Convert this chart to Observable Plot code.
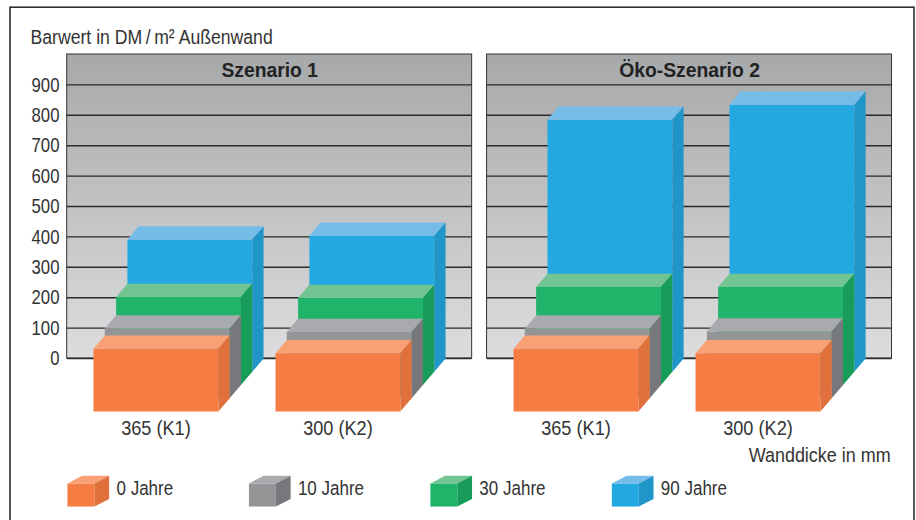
<!DOCTYPE html>
<html>
<head>
<meta charset="utf-8">
<script src="https://cdn.jsdelivr.net/npm/d3@7"></script>
<script src="https://cdn.jsdelivr.net/npm/@observablehq/plot@0.6"></script>
<style>html,body{margin:0;padding:0;background:#fff}svg{display:block}</style>
</head>
<body>
<div id="chart"></div>
<script>
// Data (DM/m²)
const scenarios = ["Szenario 1", "Öko-Szenario 2"];
const walls = ["365 (K1)", "300 (K2)"];
const years = ["0 Jahre", "10 Jahre", "30 Jahre", "90 Jahre"];
const yTicks = [0, 100, 200, 300, 400, 500, 600, 700, 800, 900];
// order: [S1 K1, S1 K2, S2 K1, S2 K2]
const jahre0 = [206, 191, 206, 191];
const jahre10 = [229, 218, 229, 219];
const jahre30 = [289, 286, 322, 322];
const jahre90 = [435, 447, 829, 878];

const seriesValues = [jahre0, jahre10, jahre30, jahre90];
const palette = [
  {front: "#f57d44", top: "#f9a174", side: "#e1713c"},
  {front: "#949597", top: "#a9aaad", side: "#77787b"},
  {front: "#20b46a", top: "#72c492", side: "#189c5a"},
  {front: "#24a8e1", top: "#75bce9", side: "#2095c8"}
];

// Layout in scale units
const barW = 0.686, depthX = 0.0621, depthY = 43.5, panelStep = 2.308;
const panelX = -0.1445, panelW = 2.225;

let faceId = 0;
function cuboid(out, x0, base, w, h, dx, dy, colors) {
  const x1 = x0 + w, t = base + h;
  const add = (pts, fill) => {
    const z = faceId++;
    for (const [x, y] of pts) out.push({x, y, z, fill});
  };
  add([[x0, base], [x1, base], [x1, t], [x0, t]], colors.front);
  add([[x0, t], [x1, t], [x1 + dx, t + dy], [x0 + dx, t + dy]], colors.top);
  add([[x1, base], [x1 + dx, base + dy], [x1 + dx, t + dy], [x1, t]], colors.side);
}

const faces = [];
scenarios.forEach((_, p) => walls.forEach((_, w) => {
  const idx = p * 2 + w;
  for (let s = 3; s >= 0; s--) {
    const x0 = p * panelStep + w + s * depthX;
    const base = -(4 - s) * depthY;
    cuboid(faces, x0, base, barW, seriesValues[s][idx], depthX, depthY, palette[s]);
  }
}));

const legendX = i => -0.143 + i * 0.997;
years.forEach((_, i) => cuboid(faces, legendX(i), -487, 0.148, 76, 0.081, 25, palette[i]));

const panels = scenarios.map((name, p) => ({name, x1: panelX + p * (panelW + 0.082), x2: panelX + panelW + p * (panelW + 0.082)}));
const grid = panels.flatMap(pn => yTicks.map(v => ({v, x1: pn.x1, x2: pn.x2})));
const wallLabels = scenarios.flatMap((_, p) => walls.map((name, w) => ({name, x: p * panelStep + w + barW / 2})));

const ink = "#333";
const chart = Plot.plot({
  width: 916,
  height: 520,
  marginLeft: 67,
  marginTop: 0,
  marginRight: 0,
  marginBottom: 0,
  style: {fontFamily: "'Liberation Sans','Arial',sans-serif", background: "#fff", color: ink},
  x: {domain: [0, 1], range: [93, 275], axis: null},
  y: {domain: [0, 1000], range: [358, 54], axis: null},
  marks: [
    () => {
      const defs = d3.create("svg:defs");
      const g = defs.append("linearGradient").attr("id", "panelGrad").attr("x1", 0).attr("y1", 0).attr("x2", 0).attr("y2", 1);
      g.append("stop").attr("offset", "0%").attr("stop-color", "#a7a8aa");
      g.append("stop").attr("offset", "100%").attr("stop-color", "#dcddde");
      return defs.node();
    },
    // outer frame (runs off the bottom of the picture)
    Plot.rect([{}], {x1: () => -0.456, x2: () => 4.511, y1: () => -560, y2: () => 1154, fill: "none", stroke: "#222", strokeWidth: 1.5}),
    // panels
    Plot.rect(panels, {x1: "x1", x2: "x2", y1: () => 0, y2: () => 1000, fill: "url(#panelGrad)", stroke: "#333", strokeWidth: 1}),
    Plot.ruleY(grid, {y: "v", x1: "x1", x2: "x2", stroke: "#2a2a2a", strokeWidth: 1.4}),
    Plot.text(panels, {x: d => (d.x1 + d.x2) / 2, y: () => 947, text: "name", fontSize: 21, fontWeight: "bold", fill: "#222"}),
    // bars and legend keys
    Plot.line(faces, {x: "x", y: "y", z: "z", fill: "fill", stroke: null, curve: "linear"}),
    // axis and texts
    Plot.axisY({ticks: yTicks, tickSize: 0, tickPadding: 8, fontSize: 21, label: null, fill: ink}),
    Plot.text(["Barwert in DM\u2009/\u2009m² Außenwand"], {x: () => -0.346, y: () => 1055, text: d => d, textAnchor: "start", fontSize: 20.5, fill: ink}),
    Plot.text(wallLabels, {x: "x", y: () => -230, text: "name", fontSize: 20.5, fill: ink}),
    Plot.text(["Wanddicke in mm"], {x: () => 4.38, y: () => -319, text: d => d, textAnchor: "end", fontSize: 20.5, fill: ink}),
    Plot.text(years, {x: (d, i) => legendX(i) + 0.269, y: () => -428, text: d => d, textAnchor: "start", fontSize: 20.5, fill: ink})
  ]
});
document.getElementById("chart").append(chart);
// The reference face is condensed and no condensed face is installed: narrow the real text.
chart.querySelectorAll("text").forEach(t => {
  const s = t.textContent;
  const style = getComputedStyle(t);
  let ratio = 0.86;
  if (style.fontWeight >= 600) ratio = 0.92;
  else if (parseFloat(style.fontSize) === 21) ratio = 0.8;
  else if (years.includes(s)) ratio = 0.83;
  else if (walls.includes(s)) ratio = 0.885;
  else if (s.startsWith("Wanddicke")) ratio = 0.876;
  t.setAttribute("textLength", (t.getComputedTextLength() * ratio).toFixed(1));
  t.setAttribute("lengthAdjust", "spacingAndGlyphs");
});
</script>
</body>
</html>
